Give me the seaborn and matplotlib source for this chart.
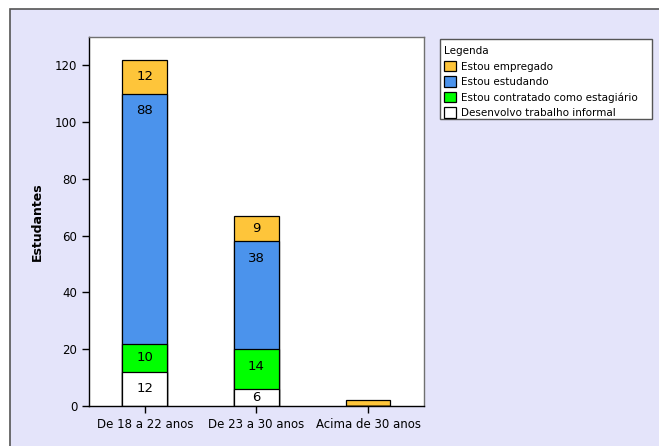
import numpy as np
import pandas as pd
import matplotlib
matplotlib.use("Agg")
import matplotlib.pyplot as plt
from matplotlib.patches import Patch, Rectangle
import seaborn as sns

faixas = ["De 18 a 22 anos", "De 23 a 30 anos", "Acima de 30 anos"]
informal = [12, 6, 0]
estagiario = [10, 14, 0]
estudando = [88, 38, 0]
empregado = [12, 9, 2]

series = ["Desenvolvo trabalho informal", "Estou contratado como estagiário",
          "Estou estudando", "Estou empregado"]
cores = ["#ffffff", "#00ff00", "#4b93ec", "#fec53a"]

df = pd.DataFrame({"faixa": faixas, series[0]: informal, series[1]: estagiario,
                   series[2]: estudando, series[3]: empregado})
acum = df[series].cumsum(axis=1)

sns.set_style("white")
plt.rcParams['font.family'] = ['DejaVu Sans']
plt.rcParams['text.color'] = 'black'
plt.rcParams['axes.labelcolor'] = 'black'
plt.rcParams['xtick.color'] = 'black'
plt.rcParams['ytick.color'] = 'black'

fig = plt.figure(figsize=(6.59, 4.46), dpi=100)
fig.patch.set_facecolor("white")
# moldura lilas do SPSS
fig.patches.append(Rectangle((10 / 659, -0.1), 1, 1.1 - 9 / 446, transform=fig.transFigure,
                             facecolor="#e4e4fa", edgecolor="#555555", lw=1.2, zorder=-2))

ax = fig.add_axes([89 / 659, 40 / 446, 335 / 659, 369 / 446])
ax.set_zorder(2)
ax.set_facecolor("white")

# barras empilhadas: desenha do total para baixo
for i in range(len(series) - 1, -1, -1):
    sns.barplot(x=df["faixa"], y=acum[series[i]], order=faixas, color=cores[i],
                width=0.4, edgecolor="black", linewidth=0.9, saturation=1, ax=ax)

for j in range(len(faixas)):
    for i, s in enumerate(series):
        v = df[s][j]
        if v < 5:
            continue
        topo = acum[s][j]
        ax.text(j, topo - min(6, v / 2), str(v), ha="center", va="center",
                fontsize=9.5, color="black")

ax.set_xlim(-0.5, 2.5)
ax.set_ylim(0, 130)
ax.set_yticks(range(0, 121, 20))
ax.set_xlabel("")
ax.set_ylabel("Estudantes", fontsize=9, fontweight="bold", labelpad=8)
ax.tick_params(axis="both", labelsize=8.5, length=5, width=1, direction="out",
               bottom=True, left=True, color="black")
for lado in ["top", "right"]:
    ax.spines[lado].set_color("#707070")
for lado in ["left", "bottom"]:
    ax.spines[lado].set_color("black")
for sp in ax.spines.values():
    sp.set_linewidth(1)

# caixa da legenda
fig.patches.append(Rectangle((440 / 659, 1 - 119 / 446), 212 / 659, 80 / 446,
                             transform=fig.transFigure, facecolor="white",
                             edgecolor="#555555", lw=1, zorder=-1))
handles = [Patch(facecolor=cores[i], edgecolor="black", lw=0.9, label=series[i])
           for i in range(len(series) - 1, -1, -1)]
leg = fig.legend(handles=handles, title="Legenda", loc="upper left",
                 bbox_to_anchor=(443 / 659, 1 - 45 / 446), frameon=False,
                 fontsize=7.5, title_fontsize=7.5, handlelength=1.1, handleheight=1.2,
                 handletextpad=0.5, labelspacing=0.45, borderpad=0.1, borderaxespad=0)
leg._legend_box.align = "left"
leg.set_zorder(5)

fig.savefig("out.png", dpi=100)
